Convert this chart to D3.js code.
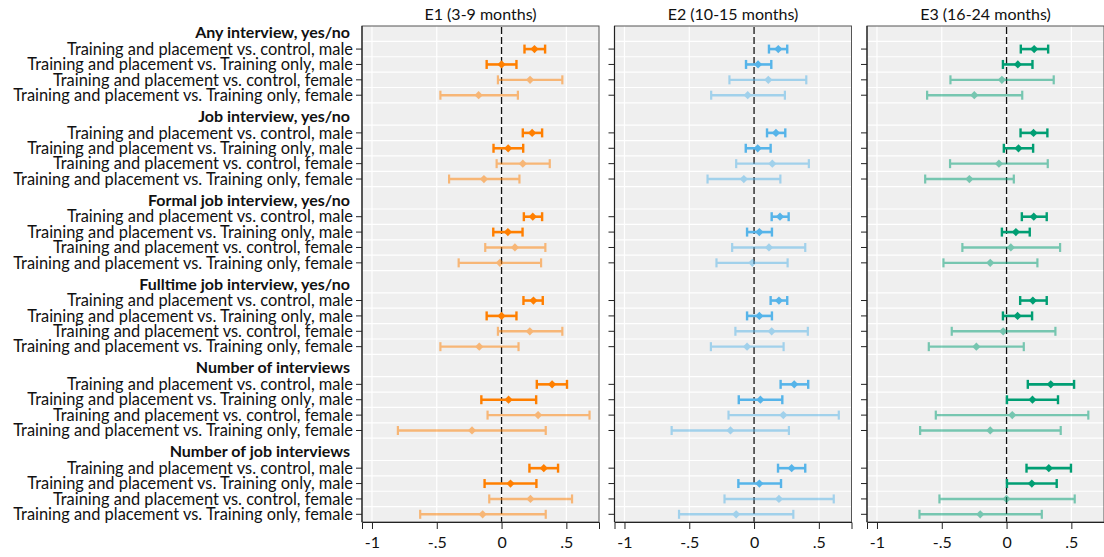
<!DOCTYPE html>
<html><head><meta charset="utf-8">
<script src="https://cdn.jsdelivr.net/npm/d3@7"></script>
<style>html,body{margin:0;padding:0;background:#fff;} svg{display:block;}</style>
</head><body>
<div id="chart"></div>
<script>
const panels = ["E1 (3-9 months)", "E2 (10-15 months)", "E3 (16-24 months)"];
const outcomes = ["Any interview, yes/no", "Job interview, yes/no", "Formal job interview, yes/no",
  "Fulltime job interview, yes/no", "Number of interviews", "Number of job interviews"];
const comparisons = ["Training and placement vs. control, male", "Training and placement vs. Training only, male",
  "Training and placement vs. control, female", "Training and placement vs. Training only, female"];
const isMale = [true, true, false, false];
const xTicks = [-1, -0.5, 0, 0.5];
const xTickLabels = ["-1", "-.5", "0", ".5"];

// estimates, outcome-major (6 outcomes x 4 comparisons)
const e1Est = [0.254,0.0,0.22,-0.177, 0.236,0.051,0.164,-0.136, 0.241,0.049,0.103,-0.013,
  0.246,0.0,0.218,-0.172, 0.39,0.054,0.282,-0.228, 0.326,0.069,0.223,-0.146];
const e1Lo = [0.177,-0.115,-0.028,-0.472, 0.164,-0.062,-0.038,-0.405, 0.172,-0.064,-0.126,-0.331,
  0.169,-0.115,-0.028,-0.472, 0.272,-0.156,-0.108,-0.8, 0.215,-0.131,-0.095,-0.628];
const e1Hi = [0.336,0.115,0.469,0.126, 0.313,0.167,0.372,0.138, 0.313,0.162,0.338,0.305,
  0.318,0.115,0.469,0.131, 0.505,0.267,0.679,0.341, 0.436,0.269,0.544,0.341];

const e2Est = [0.187,0.031,0.11,-0.049, 0.169,0.028,0.141,-0.079, 0.2,0.041,0.115,-0.013,
  0.192,0.041,0.136,-0.054, 0.31,0.049,0.226,-0.182, 0.29,0.041,0.192,-0.138];
const e2Lo = [0.115,-0.062,-0.19,-0.331, 0.1,-0.064,-0.138,-0.359, 0.136,-0.054,-0.169,-0.29,
  0.128,-0.054,-0.144,-0.333, 0.205,-0.118,-0.197,-0.636, 0.185,-0.121,-0.228,-0.579];
const e2Hi = [0.256,0.133,0.403,0.238, 0.241,0.128,0.423,0.203, 0.267,0.138,0.395,0.259,
  0.256,0.138,0.415,0.228, 0.418,0.218,0.654,0.269, 0.395,0.208,0.615,0.303];

const e3Est = [0.213,0.087,-0.036,-0.249, 0.208,0.092,-0.059,-0.287, 0.21,0.072,0.033,-0.126,
  0.203,0.085,-0.026,-0.233, 0.341,0.2,0.044,-0.126, 0.326,0.195,0.0,-0.203];
const e3Lo = [0.11,-0.028,-0.433,-0.613, 0.108,-0.021,-0.436,-0.628, 0.118,-0.036,-0.341,-0.487,
  0.105,-0.028,-0.423,-0.6, 0.164,0.003,-0.546,-0.667, 0.154,0.003,-0.518,-0.672];
const e3Hi = [0.321,0.2,0.364,0.121, 0.315,0.205,0.318,0.056, 0.31,0.179,0.413,0.238,
  0.31,0.197,0.377,0.133, 0.521,0.397,0.631,0.418, 0.497,0.387,0.526,0.272];

const panelColors = ["#ff7f00", "#56b4e9", "#009e73"];

const W = 1104, H = 557;
const FONT = "Lato, 'Open Sans', sans-serif";
const svg = d3.select("#chart").append("svg").attr("width", W).attr("height", H)
  .style("font-family", FONT);

const plotTop = 26, plotBottom = 522;
const panelW = 237, panelX = [362, 614.5, 867];
const groupPitch = 5.45, firstOff = 1.5;
const posMax = firstOff + 5 * groupPitch + 3 + 0.5;
const y = d3.scaleLinear().domain([0, posMax]).range([plotTop, plotBottom]);
const rowPos = (g, i) => firstOff + g * groupPitch + i;

const allEst = [e1Est, e2Est, e3Est], allLo = [e1Lo, e2Lo, e3Lo], allHi = [e1Hi, e2Hi, e3Hi];

panels.forEach((title, p) => {
  const x0 = panelX[p];
  const x = d3.scaleLinear().domain([-1.077, 0.752]).range([x0, x0 + panelW]);
  const g = svg.append("g");
  g.append("rect").attr("x", x0).attr("y", plotTop).attr("width", panelW).attr("height", plotBottom - plotTop)
    .attr("fill", "#efefef");
  g.selectAll(".vg").data(xTicks).join("line")
    .attr("x1", d => x(d)).attr("x2", d => x(d)).attr("y1", plotTop).attr("y2", plotBottom)
    .attr("stroke", "#fff").attr("stroke-width", 1.2);
  const hpos = [];
  outcomes.forEach((o, gi) => { for (let i = 0; i <= 4; i++) hpos.push(rowPos(gi, i) - 0.5); });
  g.selectAll(".hg").data(hpos).join("line")
    .attr("x1", x0).attr("x2", x0 + panelW).attr("y1", d => y(d)).attr("y2", d => y(d))
    .attr("stroke", "#fff").attr("stroke-width", 1.2);
  g.append("line").attr("x1", x(0)).attr("x2", x(0)).attr("y1", plotTop + 1).attr("y2", plotBottom)
    .attr("stroke", "#111").attr("stroke-width", 1.3).attr("stroke-dasharray", "7,3");
  g.append("rect").attr("x", x0).attr("y", plotTop).attr("width", panelW).attr("height", plotBottom - plotTop)
    .attr("fill", "none").attr("stroke", "#555").attr("stroke-width", 1);
  const xa = d3.axisBottom(x).tickValues(xTicks).tickFormat((d, i) => xTickLabels[i]).tickSize(7).tickPadding(8);
  const xg = g.append("g").attr("transform", `translate(0,${plotBottom})`).call(xa);
  xg.select(".domain").attr("stroke", "#222");
  xg.selectAll(".tick line").attr("stroke", "#222");
  xg.selectAll("text").attr("font-size", 16).attr("font-family", FONT).attr("fill", "#111");
  const ticksPos = [];
  outcomes.forEach((o, gi) => comparisons.forEach((c, i) => ticksPos.push({pos: rowPos(gi, i), label: c})));
  g.selectAll(".yt").data(ticksPos).join("line")
    .attr("x1", x0 - 6).attr("x2", x0).attr("y1", d => y(d.pos)).attr("y2", d => y(d.pos))
    .attr("stroke", "#222").attr("stroke-width", 1);
  g.append("line").attr("x1", x0).attr("x2", x0).attr("y1", plotTop).attr("y2", plotBottom)
    .attr("stroke", "#222").attr("stroke-width", 1.2);
  if (p === 0) {
    g.selectAll(".yl").data(ticksPos).join("text")
      .attr("x", x0 - 9).attr("y", d => y(d.pos)).attr("dy", "0.35em")
      .attr("text-anchor", "end").attr("font-size", 16.4).attr("fill", "#111").text(d => d.label);
    g.selectAll(".hdr").data(outcomes).join("text")
      .attr("x", x0 - 12).attr("y", (d, gi) => y(rowPos(gi, 0) - 1.07)).attr("dy", "0.35em")
      .attr("text-anchor", "end").attr("font-size", 16).attr("font-weight", "bold").attr("fill", "#111")
      .text(d => d);
  }
  svg.append("text").attr("x", x0 + panelW / 2).attr("y", 20).attr("text-anchor", "middle")
    .attr("font-size", 16).attr("fill", "#111").text(title);

  const data = [];
  outcomes.forEach((o, gi) => comparisons.forEach((c, i) => {
    const k = gi * 4 + i;
    data.push({pos: rowPos(gi, i), est: allEst[p][k], lo: allLo[p][k], hi: allHi[p][k], male: isMale[i]});
  }));
  const col = panelColors[p];
  const eb = g.selectAll(".eb").data(data).join("g")
    .attr("opacity", d => d.male ? 1 : 0.5);
  eb.append("line").attr("x1", d => x(d.lo)).attr("x2", d => x(d.hi))
    .attr("y1", d => y(d.pos)).attr("y2", d => y(d.pos))
    .attr("stroke", col).attr("stroke-width", d => d.male ? 2.6 : 2.4);
  eb.append("line").attr("x1", d => x(d.lo)).attr("x2", d => x(d.lo))
    .attr("y1", d => y(d.pos) - 4.5).attr("y2", d => y(d.pos) + 4.5)
    .attr("stroke", col).attr("stroke-width", d => d.male ? 2.4 : 2.2);
  eb.append("line").attr("x1", d => x(d.hi)).attr("x2", d => x(d.hi))
    .attr("y1", d => y(d.pos) - 4.5).attr("y2", d => y(d.pos) + 4.5)
    .attr("stroke", col).attr("stroke-width", d => d.male ? 2.4 : 2.2);
  eb.append("path").attr("d", d3.symbol().type(d3.symbolSquare).size(34))
    .attr("transform", d => `translate(${x(d.est)},${y(d.pos)}) rotate(45)`)
    .attr("fill", col);
});
</script>
</body></html>
